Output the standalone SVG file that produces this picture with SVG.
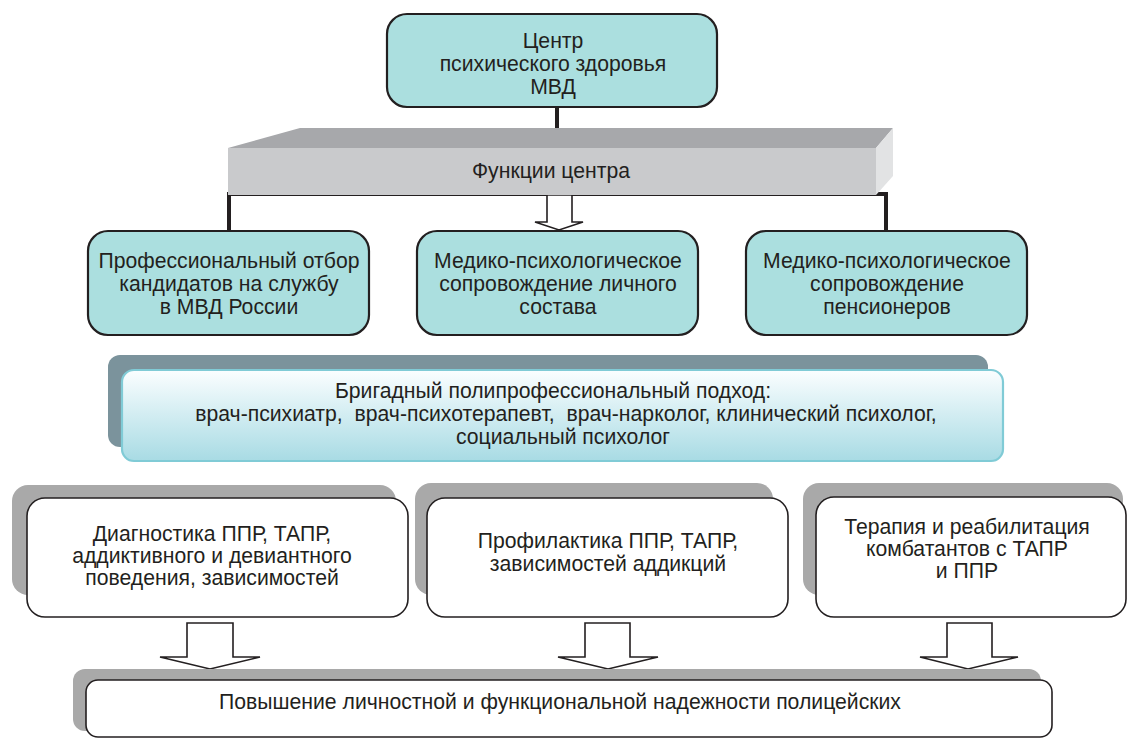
<svg xmlns="http://www.w3.org/2000/svg" width="1128" height="740" viewBox="0 0 1128 740">
<defs>
<style>
text{font-family:"Liberation Sans",Arial,sans-serif;font-size:21.2px;fill:#231f20;text-anchor:middle}
.teal{fill:#abdfdf;stroke:#231f20;stroke-width:2.2}
.white{fill:#ffffff;stroke:#231f20;stroke-width:1.6}
.shadow{fill:#a9a9a9}
.conn{stroke:#231f20;stroke-width:4;fill:none}
.hollow{fill:#ffffff;stroke:#231f20;stroke-width:1.6;stroke-linejoin:miter}
</style>
<linearGradient id="gBrig" x1="0" y1="0" x2="0" y2="1">
<stop offset="0" stop-color="#fbfeff"/>
<stop offset="1" stop-color="#a8dbe4"/>
</linearGradient>
</defs>
<rect width="1128" height="740" fill="#ffffff"/>

<g id="connectors">
<line class="conn" x1="557" y1="106" x2="557" y2="130"/>
<polyline class="conn" points="229,232 229,194 886,194 886,232"/>
<path class="hollow" d="M547,195 H572 V222 H583 L559,230 L535,222 H547 Z"/>
<path class="hollow" d="M187,623 H233 V657 H260 L210,669 L160,657 H187 Z"/>
<path class="hollow" d="M585,623 H630 V657 H658 L608,669 L558,657 H585 Z"/>
<path class="hollow" d="M947,623 H992 V657 H1018 L968,669 L920,657 H947 Z"/>
</g>

<g id="center">
<rect class="teal" x="387" y="14" width="330" height="93" rx="20"/>
<text x="553" y="48">Центр</text>
<text x="553" y="71">психического здоровья</text>
<text x="553" y="94">МВД</text>
</g>

<g id="functions">
<polygon points="228,148 300,128 893,128 876,148" fill="#a7a8ab"/>
<polygon points="876,148 893,128 893,176 876,195" fill="#e2e3e4"/>
<rect x="228" y="148" width="648" height="47" fill="#c9cacc"/>
<text x="551" y="178">Функции центра</text>
</g>

<g id="selection">
<rect class="teal" x="88" y="231" width="281" height="104" rx="20"/>
<text x="229" y="268">Профессиональный отбор</text>
<text x="229" y="291">кандидатов на службу</text>
<text x="229" y="314">в МВД России</text>
</g>

<g id="staff">
<rect class="teal" x="417" y="231" width="281" height="104" rx="20"/>
<text x="558" y="268">Медико-психологическое</text>
<text x="558" y="291">сопровождение личного</text>
<text x="558" y="314">состава</text>
</g>

<g id="pensioners">
<rect class="teal" x="746" y="231" width="281" height="104" rx="20"/>
<text x="887" y="268">Медико-психологическое</text>
<text x="887" y="291">сопровождение</text>
<text x="887" y="314">пенсионеров</text>
</g>

<g id="brigade">
<rect x="108" y="355" width="880" height="92" rx="12" fill="#7b939c"/>
<rect x="122" y="370" width="881" height="91" rx="12" fill="url(#gBrig)" stroke="#80cbd6" stroke-width="2.2"/>
<text x="553" y="398">Бригадный полипрофессиональный подход:</text>
<text x="566" y="421" xml:space="preserve">врач-психиатр,  врач-психотерапевт,  врач-нарколог, клинический психолог,</text>
<text x="563" y="444">социальный психолог</text>
</g>

<g id="diagnostics">
<rect class="shadow" x="12" y="485" width="384" height="110" rx="16"/>
<rect class="white" x="27" y="498" width="381" height="119" rx="18"/>
<text x="212" y="541">Диагностика ППР, ТАПР,</text>
<text x="212" y="563">аддиктивного и девиантного</text>
<text x="212" y="585">поведения, зависимостей</text>
</g>

<g id="prevention">
<rect class="shadow" x="415" y="483" width="358" height="112" rx="16"/>
<rect class="white" x="427" y="498" width="361" height="119" rx="18"/>
<text x="608" y="548">Профилактика ППР, ТАПР,</text>
<text x="608" y="571">зависимостей аддикций</text>
</g>

<g id="therapy">
<rect class="shadow" x="803" y="483" width="320" height="112" rx="16"/>
<rect class="white" x="816" y="497" width="310" height="120" rx="18"/>
<text x="967" y="534">Терапия и реабилитация</text>
<text x="967" y="556">комбатантов с ТАПР</text>
<text x="967" y="578">и ППР</text>
</g>

<g id="result">
<rect class="shadow" x="73" y="669" width="968" height="62" rx="12"/>
<rect class="white" x="86" y="680" width="966" height="57" rx="12"/>
<text x="560" y="709">Повышение личностной и функциональной надежности полицейских</text>
</g>
</svg>
